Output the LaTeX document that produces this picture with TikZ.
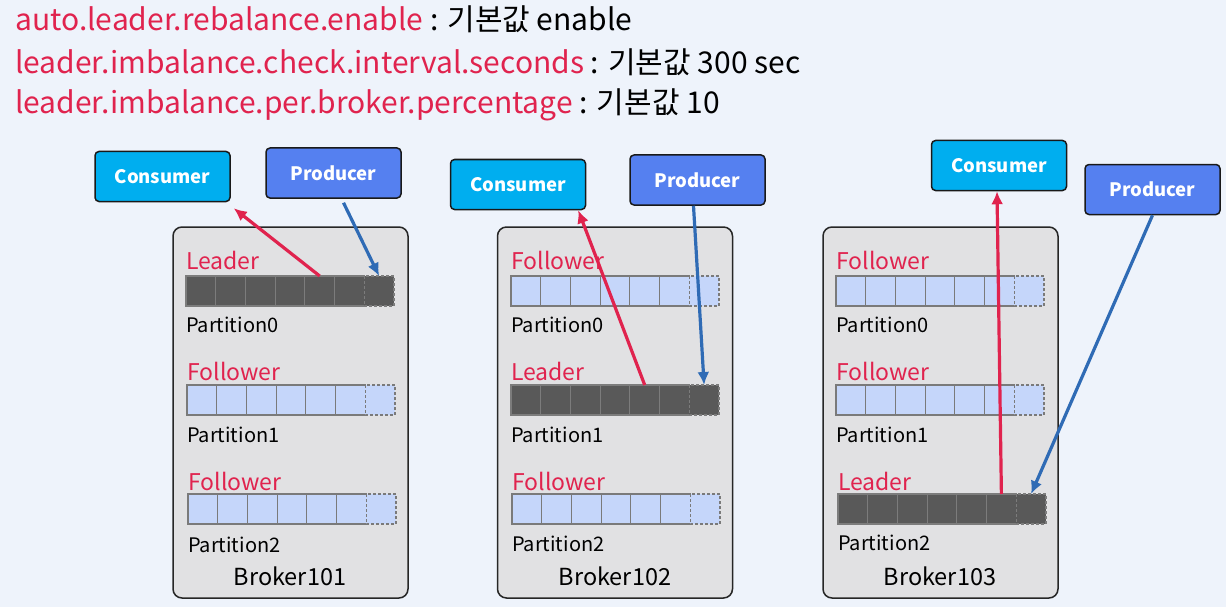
\documentclass[tikz,border=0pt]{standalone}
\usepackage{fontspec}
\setmainfont{Noto Sans CJK KR}
\usetikzlibrary{arrows.meta,calc}

\definecolor{bg}{HTML}{EEF3FB}
\definecolor{kred}{HTML}{E0234E}
\definecolor{kblue}{HTML}{2F6BB5}
\definecolor{consfill}{HTML}{00AEEF}
\definecolor{prodfill}{HTML}{5580F0}
\definecolor{brokerfill}{HTML}{E1E1E3}
\definecolor{leadfill}{HTML}{595959}
\definecolor{leadline}{HTML}{7C7C7C}
\definecolor{follfill}{HTML}{C5D6FA}
\definecolor{follline}{HTML}{7A7A7A}

\tikzset{
  hdr/.style={anchor=west, inner sep=0pt, font=\fontsize{30}{34}\selectfont},
  client/.style={draw=black!90, line width=1.5pt, rounded corners=4pt, text=white,
    font=\bfseries\fontsize{18.5}{22}\selectfont, minimum width=135, minimum height=50},
  consumer/.style={client, fill=consfill},
  producer/.style={client, fill=prodfill},
  brokerbox/.style={draw=black!85, line width=1.5pt, rounded corners=9pt, fill=brokerfill,
    minimum width=235, minimum height=371},
  role/.style={anchor=west, inner sep=0pt, text=kred, font=\fontsize{23}{26}\selectfont},
  plabel/.style={anchor=west, inner sep=0pt, font=\fontsize{20}{23}\selectfont},
  blabel/.style={inner sep=0pt, font=\fontsize{23.5}{26}\selectfont},
  leaderbar/.style={fill=leadfill, draw=leadline, line width=1.2pt},
  followerbar/.style={fill=follfill, draw=follline, line width=1.2pt},
  readarrow/.style={draw=kred, line width=3.2pt, -{Latex[length=13pt,width=12pt]}},
  writearrow/.style={draw=kblue, line width=3.2pt, -{Latex[length=13pt,width=12pt]}},
}

% partition bar: name, left x, top y, cell style
\newcommand\partbar[4]{%
  \node[anchor=north west, minimum width=208, minimum height=30, inner sep=0pt] (#1) at (#2,#3) {};
  \foreach \k in {0,...,5}
    \draw[#4] ($(#1.north west)+(\k*29.714,0)$) rectangle ++(29.714,30);
  \fill[#4, draw=none] ($(#1.north west)+(178.29,0)$) rectangle ++(29.714,30);
  \draw[#4, fill=none, dashed, dash pattern=on 3pt off 2pt] ($(#1.north west)+(178.29,0)$) rectangle ++(29.714,30);
  \coordinate (#1-c5) at ($(#1.north west)+(133.7,0)$);
  \coordinate (#1-c6) at ($(#1.north west)+(163.4,0)$);
  \coordinate (#1-new) at ($(#1.north west)+(193.1,0)$);
}

\begin{document}
\begin{tikzpicture}[x=1pt, y=-1pt]
\fill[bg] (0,0) rectangle (1226,607);
\useasboundingbox (0,0) rectangle (1226,607);

% settings
\node[hdr] (h1) at (15,19) {\textcolor{kred}{auto.leader.rebalance.enable} : 기본값 enable};
\node[hdr] (h2) at (15,62) {\textcolor{kred}{leader.imbalance.check.interval.seconds} : 기본값 300 sec};
\node[hdr] (h3) at (15,105) {\textcolor{kred}{leader.imbalance.per.broker.percentage} : 기본값 10};

% brokers
\node[brokerbox] (b1) at (290.5,412.5) {};
\node[brokerbox] (b2) at (615,412.5) {};
\node[brokerbox] (b3) at (940.5,412.5) {};

% Broker101
\node[role] (r10) at (186,260) {Leader};
\partbar{p10}{186}{276}{leaderbar}
\node[plabel] (l10) at (186,325) {Partition0};
\node[role] (r11) at (187,371) {Follower};
\partbar{p11}{187}{385}{followerbar}
\node[plabel] (l11) at (187,435) {Partition1};
\node[role] (r12) at (188,481) {Follower};
\partbar{p12}{188}{494}{followerbar}
\node[plabel] (l12) at (188,545) {Partition2};
\node[blabel] (n1) at (290,576) {Broker101};

% Broker102
\node[role] (r20) at (511,260) {Follower};
\partbar{p20}{511}{276}{followerbar}
\node[plabel] (l20) at (511,325) {Partition0};
\node[role] (r21) at (511,371) {Leader};
\partbar{p21}{511}{385}{leaderbar}
\node[plabel] (l21) at (511,435) {Partition1};
\node[role] (r22) at (512,481) {Follower};
\partbar{p22}{512}{494}{followerbar}
\node[plabel] (l22) at (512,544) {Partition2};
\node[blabel] (n2) at (615,576) {Broker102};

% Broker103
\node[role] (r30) at (836,260) {Follower};
\partbar{p30}{836}{276}{followerbar}
\node[plabel] (l30) at (836,325) {Partition0};
\node[role] (r31) at (836,371) {Follower};
\partbar{p31}{836}{385}{followerbar}
\node[plabel] (l31) at (836,435) {Partition1};
\node[role] (r32) at (838,481) {Leader};
\partbar{p32}{838}{494}{leaderbar}
\node[plabel] (l32) at (838,543) {Partition2};
\node[blabel] (n3) at (940,576) {Broker103};

% clients
\node[consumer] (c1) at (162.5,176.5) {Consumer};
\node[producer] (pr1) at (333.5,173) {Producer};
\node[consumer] (c2) at (518,184.5) {Consumer};
\node[producer] (pr2) at (697.5,180) {Producer};
\node[consumer] (c3) at (999,165.5) {Consumer};
\node[producer] (pr3) at (1152.5,189.5) {Producer};

% arrow ends just off the client boxes
\coordinate (c1-in) at ($(c1.south east)+(3,6)$);
\coordinate (pr1-out) at ($(pr1.south)+(10,4)$);
\coordinate (c2-in) at ($(c2.south east)+(-8,0)$);
\coordinate (pr2-out) at ($(pr2.south)+(-4,0)$);
\coordinate (c3-in) at ($(c3.south)+(-2,0)$);
\coordinate (pr3-out) at (pr3.south);

% reads from leaders, writes to leaders
\draw[readarrow] (p10-c5) -- (c1-in);
\draw[writearrow] (pr1-out) -- (p10-new);
\draw[readarrow] (p21-c5) -- (c2-in);
\draw[writearrow] (pr2-out) -- (p21-new);
\draw[readarrow] (p32-c6) -- (c3-in);
\draw[writearrow] (pr3-out) -- (p32-new);
\end{tikzpicture}
\end{document}
